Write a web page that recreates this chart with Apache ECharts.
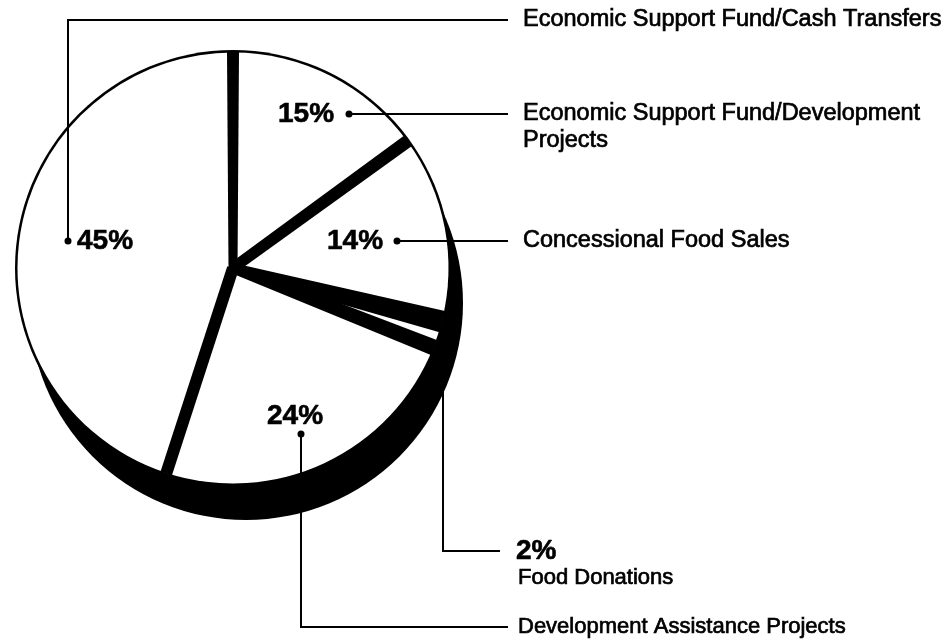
<!DOCTYPE html>
<html>
<head>
<meta charset="utf-8">
<title>Program shares</title>
<script src="https://cdn.jsdelivr.net/npm/echarts@6/dist/echarts.min.js"></script>
<style>
  html, body { margin: 0; padding: 0; background: #fff; }
  #chart { width: 952px; height: 643px; }
</style>
</head>
<body>
<div id="chart"></div>
<script>
// slices, clockwise from 12 o'clock
const names = [
  'Economic Support Fund/Development Projects',
  'Concessional Food Sales',
  'Food Donations',
  'Development Assistance Projects',
  'Economic Support Fund/Cash Transfers'
];
const shares = [15, 14, 2, 24, 45];

// legend text on the right (wrapped lines), same order as names
const nameLines = [
  ['Economic Support Fund/Development', 'Projects'],
  ['Concessional Food Sales'],
  ['Food Donations'],
  ['Development Assistance Projects'],
  ['Economic Support Fund/Cash Transfers']
];

const cx = 233, cy = 268, R = 218;
const font = '"Liberation Sans", Arial, Helvetica, sans-serif';
const total = shares.reduce((a, b) => a + b, 0);

const pieData = names.map((n, i) => ({ name: n, value: shares[i] }));

// slice boundaries (cumulative share before each slice)
const bounds = [];
shares.reduce((acc, v) => { bounds.push(acc); return acc + v; }, 0);
// black separator band widths [at centre, at rim] for each boundary
const bandWidths = [[9, 12], [11, 13], [10, 22], [11, 16], [12, 12]];

// where the percent labels / dots / name text sit
const pctPos = [
  { x: 278, y: 114, dot: [349, 114] },
  { x: 327, y: 241, dot: [397, 241] },
  { x: 516, y: 551, dot: null },
  { x: 267, y: 416, dot: [301, 434] },
  { x: 77,  y: 241, dot: [68, 241] }
];
const namePos = [
  { x: 523, y: 114, size: 23.5 },
  { x: 523, y: 241, size: 23.5 },
  { x: 518, y: 578, size: 22 },
  { x: 518, y: 627, size: 22 },
  { x: 523, y: 20, size: 23.5 }
];
const leaders = [
  [[349, 114], [508, 114]],
  [[397, 241], [508, 241]],
  [[443, 372], [443, 551], [500, 551]],
  [[301, 434], [301, 627], [508, 627]],
  [[68, 241], [68, 20], [508, 20]]
];

const graphics = [];
leaders.forEach(pts => {
  graphics.push({
    type: 'polyline', z: 10, silent: true,
    shape: { points: pts },
    style: { stroke: '#000', lineWidth: 2, fill: null }
  });
});
pctPos.forEach((p, i) => {
  graphics.push({
    type: 'text', z: 11, silent: true,
    style: {
      text: shares[i] + '%', x: p.x, y: p.y,
      font: 'bold 28px ' + font, fill: '#000',
      stroke: '#000', lineWidth: 0.6,
      textAlign: 'left', textVerticalAlign: 'middle'
    }
  });
  if (p.dot) {
    graphics.push({
      type: 'circle', z: 11, silent: true,
      shape: { cx: p.dot[0], cy: p.dot[1], r: 3.5 },
      style: { fill: '#000' }
    });
  }
});
namePos.forEach((p, i) => {
  nameLines[i].forEach((line, k) => {
    graphics.push({
      type: 'text', z: 11, silent: true,
      style: {
        text: line, x: p.x, y: p.y + k * 27,
        font: p.size + 'px ' + font, fill: '#000',
        stroke: '#000', lineWidth: 0.7,
        textAlign: 'left', textVerticalAlign: 'middle'
      }
    });
  });
});

const chart = echarts.init(document.getElementById('chart'));
chart.setOption({
  animation: false,
  backgroundColor: '#fff',
  graphic: graphics,
  series: [
    {
      // drop shadow
      type: 'pie', z: 1, silent: true,
      center: [cx + 13, cy + 35], radius: R - 1,
      startAngle: 90,
      data: [{ name: 'shadow', value: total }],
      itemStyle: { color: '#000', borderWidth: 0 },
      label: { show: false }, labelLine: { show: false },
      emphasis: { disabled: true }
    },
    {
      // black disc under the slices (outline)
      type: 'pie', z: 2, silent: true,
      center: [cx, cy], radius: R,
      startAngle: 90,
      data: [{ name: 'disc', value: total }],
      itemStyle: { color: '#000', borderWidth: 0 },
      label: { show: false }, labelLine: { show: false },
      emphasis: { disabled: true }
    },
    {
      type: 'pie', z: 3, silent: true,
      center: [cx, cy], radius: R - 2.5,
      startAngle: 90, clockwise: true,
      data: pieData,
      itemStyle: { color: '#fff', borderWidth: 0 },
      label: { show: false }, labelLine: { show: false },
      emphasis: { disabled: true }
    },
    {
      // black separators between slices
      type: 'custom', z: 4, silent: true,
      coordinateSystem: 'none',
      data: bounds.map((b, i) => [b, i]),
      renderItem: function (params, api) {
        const frac = api.value(0) / total;
        const w = bandWidths[api.value(1)];
        const a = (90 - frac * 360) * Math.PI / 180;
        const ux = Math.cos(a), uy = -Math.sin(a);
        const nx = -uy, ny = ux;
        const L = R - 2;
        return {
          type: 'polygon',
          shape: {
            points: [
              [cx + nx * w[0] / 2, cy + ny * w[0] / 2],
              [cx + ux * L + nx * w[1] / 2, cy + uy * L + ny * w[1] / 2],
              [cx + ux * L - nx * w[1] / 2, cy + uy * L - ny * w[1] / 2],
              [cx - nx * w[0] / 2, cy - ny * w[0] / 2]
            ]
          },
          style: { fill: '#000' }
        };
      }
    }
  ]
});
</script>
</body>
</html>
